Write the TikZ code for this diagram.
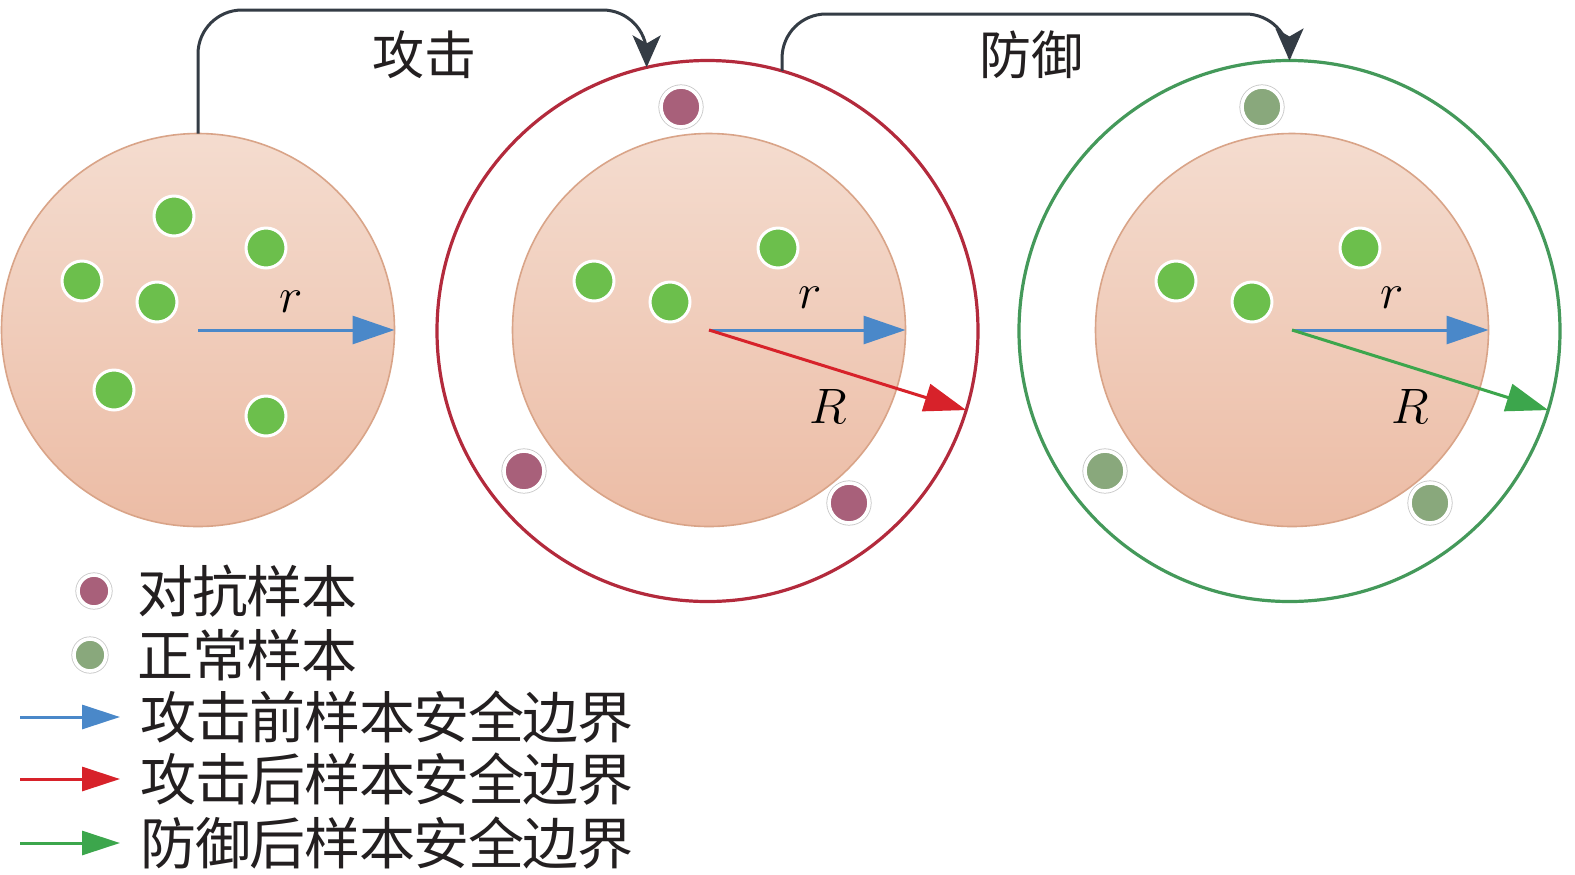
\documentclass[tikz,border=0pt]{standalone}
\usepackage{fontspec}
\newfontfamily\cjk{Noto Sans CJK SC}
\usetikzlibrary{arrows.meta,calc}
\definecolor{peachT}{HTML}{F4DCCF}
\definecolor{peachB}{HTML}{ECBCA5}
\definecolor{peachE}{HTML}{D9A488}
\definecolor{dotG}{HTML}{6CBF4C}
\definecolor{advR}{HTML}{A8607A}
\definecolor{nrmG}{HTML}{89A87C}
\definecolor{arrB}{HTML}{4A88C9}
\definecolor{arrR}{HTML}{D7222A}
\definecolor{arrG}{HTML}{3CA64C}
\definecolor{ringR}{HTML}{B32A3C}
\definecolor{ringG}{HTML}{44995A}
\definecolor{connC}{HTML}{343C45}
\definecolor{txt}{HTML}{231F20}
\newcommand\chA[1]{\makebox[27.3pt][c]{#1}}
\newcommand\chT[1]{\makebox[26pt][c]{#1}}
\begin{document}
\begin{tikzpicture}[x=0.5pt,y=-0.5pt,
  pool/.style={circle, inner sep=0pt, outer sep=0pt, minimum size=196.5pt, draw=peachE, line width=0.8pt, top color=peachT, bottom color=peachB},
  ring/.style={circle, inner sep=0pt, outer sep=0pt, minimum size=270.5pt, line width=1.6pt, draw=#1},
  sample/.style={circle, inner sep=0pt, minimum size=20pt, fill=dotG, draw=white, line width=1.5pt},
  special/.style={circle, inner sep=0pt, minimum size=#1, preaction={draw=black!22, line width=2.6pt}, draw=white, line width=1.8pt},
  radarrow/.style={line width=1.5pt, -{Triangle[length=21pt,width=14pt]}},
  legarrow/.style={line width=1.5pt, -{Triangle[length=19pt,width=12pt]}},
  connector/.style={draw=connC, line width=1.5pt, rounded corners=22pt, -{Stealth[length=16pt,width=14pt,inset=4pt]}},
  lbl/.style={inner sep=0pt, font=\fontsize{27pt}{30pt}\selectfont},
  toptext/.style={inner sep=0pt, text=txt, font=\cjk\fontsize{26pt}{30pt}\selectfont},
  legtext/.style={inner sep=0pt, anchor=west, text=txt, font=\cjk\fontsize{28pt}{32pt}\selectfont}
]
\useasboundingbox[fill=white] (0,0) rectangle (1575,874);

% pools and rings
\node[ring=ringR] (c2o) at (707.5,331) {};
\node[ring=ringG] (c3o) at (1289.5,331) {};
\node[pool] (c1) at (198,330) {};
\node[pool] (c2) at (709,330) {};
\node[pool] (c3) at (1292,330) {};

% samples, circle 1
\node[sample] (s11) at (174,216) {};
\node[sample] (s12) at (266,248) {};
\node[sample] (s13) at (82,281) {};
\node[sample] (s14) at (157,302) {};
\node[sample] (s15) at (114,390) {};
\node[sample] (s16) at (266,416) {};
% circle 2
\node[sample] (s21) at (594,281) {};
\node[sample] (s22) at (670,302) {};
\node[sample] (s23) at (778,248) {};
% circle 3
\node[sample] (s31) at (1176,281) {};
\node[sample] (s32) at (1252,302) {};
\node[sample] (s33) at (1360,248) {};

% adversarial samples
\node[special=20pt, fill=advR] (a1) at (681,107) {};
\node[special=20pt, fill=advR] (a2) at (524,471) {};
\node[special=20pt, fill=advR] (a3) at (849,503) {};
% normal samples
\node[special=20pt, fill=nrmG] (n1) at (1262,107) {};
\node[special=20pt, fill=nrmG] (n2) at (1105,471) {};
\node[special=20pt, fill=nrmG] (n3) at (1430,503) {};

% radius arrows
\draw[radarrow, draw=arrB, fill=arrB] (c1.center) -- (c1.east);
\draw[radarrow, draw=arrB, fill=arrB] (c2.center) -- (c2.east);
\draw[radarrow, draw=arrR, fill=arrR] (c2.center) -- (c2o.-17);
\draw[radarrow, draw=arrB, fill=arrB] (c3.center) -- (c3.east);
\draw[radarrow, draw=arrG, fill=arrG] (c3.center) -- (c3o.-17);

\node[lbl] (r1) at (291,302) {$r$};
\node[lbl] (r2) at (810,298) {$r$};
\node[lbl] (r3) at (1392,298) {$r$};
\node[lbl] (R2) at (828,406) {$R$};
\node[lbl] (R3) at (1410,406) {$R$};

% connectors
\coordinate (k1) at (c2o.103 |- 0,10);
\coordinate (k2) at (c3o.north |- 0,14);
\draw[connector] (c1.north) |- (k1) -- (c2o.103);
\draw[connector] (c2o.74) |- (k2) -- (c3o.north);
\node[toptext] (t1) at (424,55) {\chT{攻}\chT{击}};
\node[toptext] (t2) at (1031,55) {\chT{防}\chT{御}};

% legend
\node[special=16pt, fill=advR] (la) at (94,591) {};
\node[special=16pt, fill=nrmG] (lb) at (90,655) {};
\node[legtext] (l1) at (138,591) {\chA{对}\chA{抗}\chA{样}\chA{本}};
\node[legtext] (l2) at (138,655) {\chA{正}\chA{常}\chA{样}\chA{本}};
\coordinate (e1a) at (20,717); \coordinate (e1b) at (120,717);
\coordinate (e2a) at (20,779); \coordinate (e2b) at (120,779);
\coordinate (e3a) at (20,843); \coordinate (e3b) at (120,843);
\draw[legarrow, draw=arrB, fill=arrB] (e1a) -- (e1b);
\draw[legarrow, draw=arrR, fill=arrR] (e2a) -- (e2b);
\draw[legarrow, draw=arrG, fill=arrG] (e3a) -- (e3b);
\node[legtext] (l3) at (141,717) {\chA{攻}\chA{击}\chA{前}\chA{样}\chA{本}\chA{安}\chA{全}\chA{边}\chA{界}};
\node[legtext] (l4) at (141,779) {\chA{攻}\chA{击}\chA{后}\chA{样}\chA{本}\chA{安}\chA{全}\chA{边}\chA{界}};
\node[legtext] (l5) at (141,843) {\chA{防}\chA{御}\chA{后}\chA{样}\chA{本}\chA{安}\chA{全}\chA{边}\chA{界}};
\end{tikzpicture}
\end{document}
